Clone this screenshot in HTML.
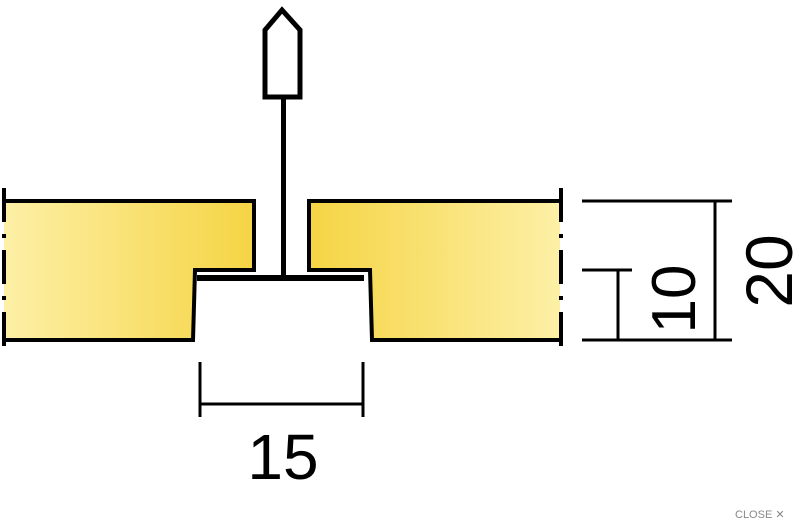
<!DOCTYPE html>
<html><head><meta charset="utf-8"><style>
html,body{margin:0;padding:0;background:#fff;width:800px;height:518px;overflow:hidden}
</style></head><body>
<svg width="800" height="518" viewBox="0 0 800 518" xmlns="http://www.w3.org/2000/svg">
<defs>
<linearGradient id="gl" x1="0" x2="1" y1="0" y2="0">
<stop offset="0" stop-color="#fdf0a6"/><stop offset="1" stop-color="#f5d444"/></linearGradient>
<linearGradient id="gr" x1="0" x2="1" y1="0" y2="0">
<stop offset="0" stop-color="#f5d444"/><stop offset="1" stop-color="#fdf0a6"/></linearGradient>
</defs>
<!-- left panel -->
<path d="M4 201 H254 V270 H195 L193 340 H4 Z" fill="url(#gl)"/>
<path d="M4 201 H254 V270 H195 L193 340 H4" fill="none" stroke="#000" stroke-width="4"/>
<!-- right panel -->
<path d="M560 201 H309 V270 H370 L372 340 H560 Z" fill="url(#gr)"/>
<path d="M560 201 H309 V270 H370 L372 340 H560" fill="none" stroke="#000" stroke-width="4"/>
<!-- break lines -->
<line x1="4" y1="188" x2="4" y2="356" stroke="#000" stroke-width="4" stroke-dasharray="34,12,4,12"/>
<line x1="561" y1="188" x2="561" y2="356" stroke="#000" stroke-width="4" stroke-dasharray="34,12,4,12"/>
<!-- T bar -->
<rect x="197" y="275" width="167" height="6" fill="#000"/>
<rect x="281" y="98" width="5" height="180" fill="#000"/>
<!-- hanger -->
<path d="M265 97 V30 L282 10 L300 30 V97 Z" fill="#fff" stroke="#000" stroke-width="5"/>
<!-- right dimensions -->
<g stroke="#000" stroke-width="3">
<line x1="582" y1="201" x2="732" y2="201"/>
<line x1="582" y1="340" x2="732" y2="340"/>
<line x1="715" y1="201" x2="715" y2="340"/>
<line x1="582" y1="270" x2="632" y2="270"/>
<line x1="618" y1="270" x2="618" y2="340"/>
<!-- bottom dimension -->
<line x1="200" y1="362" x2="200" y2="417"/>
<line x1="363" y1="362" x2="363" y2="417"/>
<line x1="200" y1="404" x2="363" y2="404"/>
</g>
<g font-family="Liberation Sans, sans-serif" fill="#000">
<text x="283" y="479" font-size="64" text-anchor="middle">15</text>
<text transform="translate(695,299) rotate(-90)" font-size="62" text-anchor="middle">10</text>
<text transform="translate(792,271) rotate(-90)" font-size="66" text-anchor="middle">20</text>
<text x="735" y="518" font-size="11" fill="#888">CLOSE ✕</text>
</g>
</svg>
</body></html>
